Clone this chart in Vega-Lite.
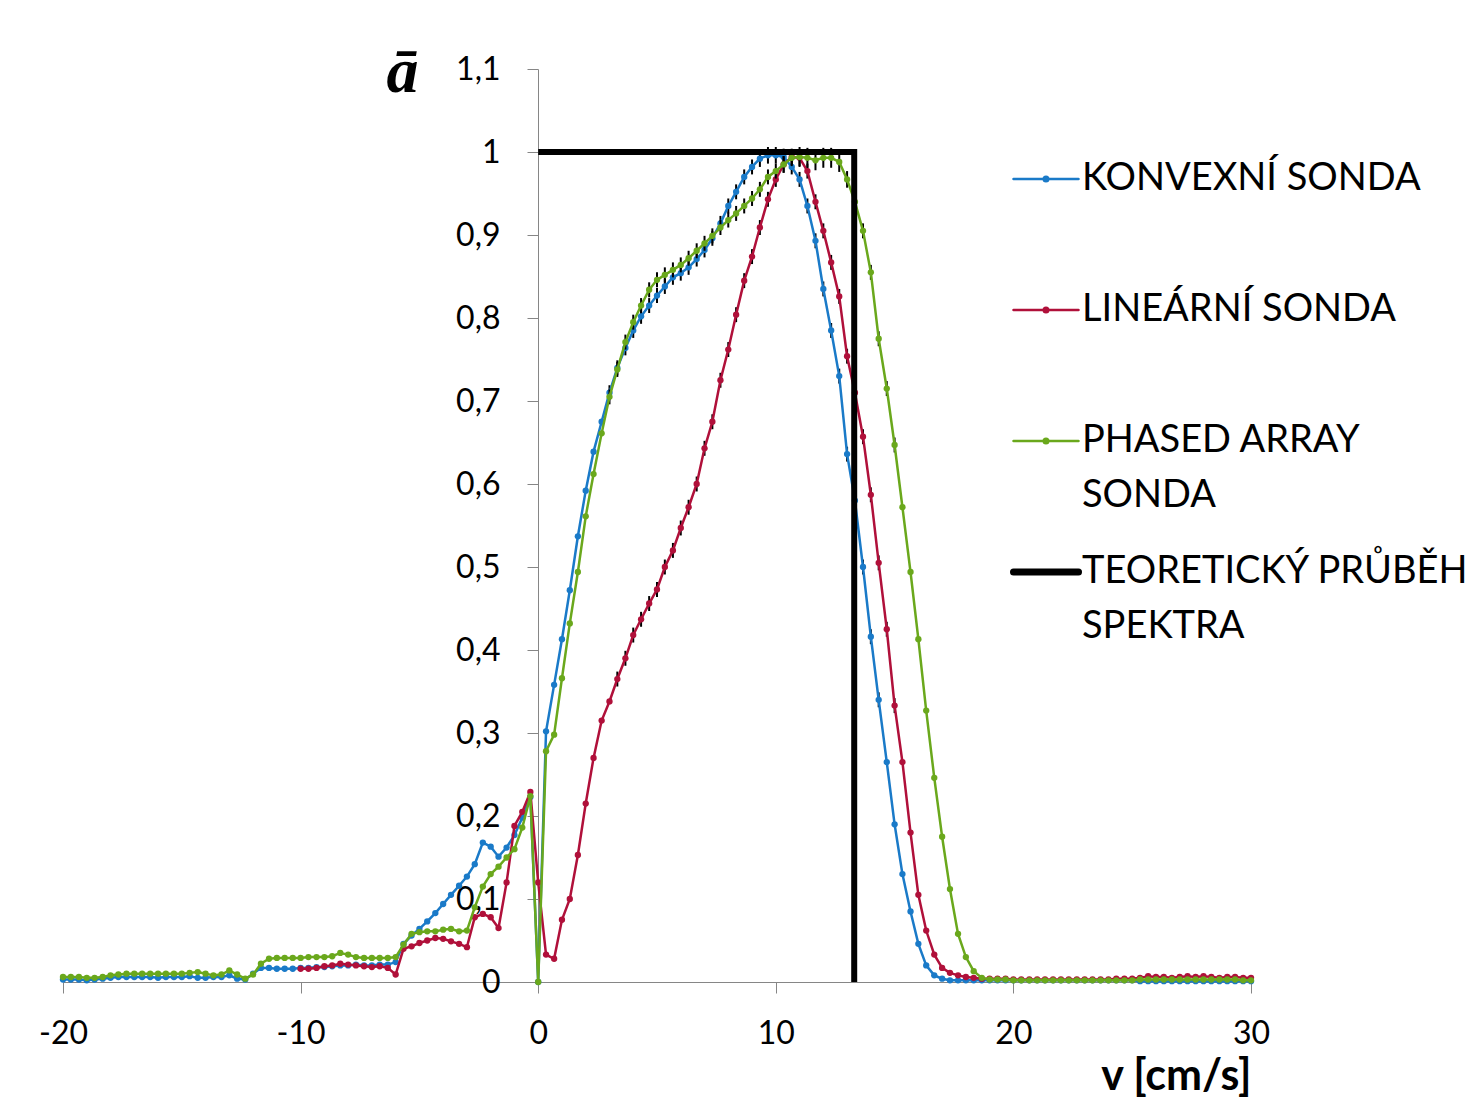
{
  "$schema": "https://vega.github.io/schema/vega-lite/v6.json",
  "width": 1188,
  "height": 913,
  "autosize": {"type": "none"},
  "padding": {"left": 63, "top": 69, "right": 230, "bottom": 136},
  "background": "white",
  "config": {"view": {"stroke": null}, "font": "Lato", "axis": {"grid": false}},
  "encoding": {
    "x": {
      "field": "v", "type": "quantitative",
      "scale": {"domain": [-20, 30], "nice": false, "zero": false},
      "axis": {
        "values": [-20, -10, 0, 10, 20, 30],
        "labelExpr": "'' + datum.value",
        "title": "v [cm/s]",
        "domainColor": "#868686", "tickColor": "#868686", "tickSize": 11,
        "labelFont": "Lato", "labelFontSize": 32, "labelColor": "black", "labelPadding": 25,
        "labelFlush": false, "labelOverlap": false,
        "titleFont": "Lato", "titleFontSize": 43, "titleFontWeight": "bold", "titleColor": "black",
        "titleX": 1188, "titleY": 107, "titleAlign": "right", "titleBaseline": "alphabetic"
      }
    },
    "y": {
      "field": "a", "type": "quantitative",
      "scale": {"domain": [0, 1.1], "nice": false},
      "axis": {
        "offset": -475,
        "values": [0, 0.1, 0.2, 0.3, 0.4, 0.5, 0.6, 0.7, 0.8, 0.9, 1, 1.1],
        "labelExpr": "replace('' + datum.value, '.', ',')",
        "domainColor": "#868686", "tickColor": "#868686", "tickSize": 11,
        "labelFont": "Lato", "labelFontSize": 32, "labelColor": "black", "labelPadding": 27,
        "labelOverlap": false, "labelFlush": false,
        "title": "ā", "titleAngle": 0, "titleFont": "Liberation Serif", "titleFontStyle": "italic",
        "titleFontWeight": "bold", "titleFontSize": 64, "titleColor": "black",
        "titleX": -136, "titleY": 22, "titleAlign": "center", "titleBaseline": "alphabetic"
      }
    }
  },
  "layer": [
    {
      "data": {"values": [
        {"v":-20,"a":0.003},{"v":-19.67,"a":0.003},{"v":-19.33,"a":0.003},{"v":-19,"a":0.002},{"v":-18.67,"a":0.003},{"v":-18.33,"a":0.004},{"v":-18,"a":0.005},{"v":-17.67,"a":0.006},{"v":-17.33,"a":0.006},{"v":-17,"a":0.006},{"v":-16.67,"a":0.006},{"v":-16.33,"a":0.006},{"v":-16,"a":0.005},{"v":-15.67,"a":0.006},{"v":-15.33,"a":0.006},{"v":-15,"a":0.006},{"v":-14.67,"a":0.007},{"v":-14.33,"a":0.005},{"v":-14,"a":0.005},{"v":-13.67,"a":0.006},{"v":-13.33,"a":0.006},{"v":-13,"a":0.008},{"v":-12.67,"a":0.004},{"v":-12.33,"a":0.003},{"v":-12,"a":0.01},{"v":-11.67,"a":0.017},{"v":-11.33,"a":0.017},{"v":-11,"a":0.016},{"v":-10.67,"a":0.016},{"v":-10.33,"a":0.016},{"v":-10,"a":0.017},{"v":-9.67,"a":0.017},{"v":-9.33,"a":0.018},{"v":-9,"a":0.018},{"v":-8.67,"a":0.019},{"v":-8.33,"a":0.02},{"v":-8,"a":0.02},{"v":-7.67,"a":0.021},{"v":-7.33,"a":0.02},{"v":-7,"a":0.02},{"v":-6.67,"a":0.021},{"v":-6.33,"a":0.021},{"v":-6,"a":0.024},{"v":-5.67,"a":0.046},{"v":-5.33,"a":0.056},{"v":-5,"a":0.064},{"v":-4.67,"a":0.073},{"v":-4.33,"a":0.083},{"v":-4,"a":0.094},{"v":-3.67,"a":0.105},{"v":-3.33,"a":0.116},{"v":-3,"a":0.127},{"v":-2.67,"a":0.142},{"v":-2.33,"a":0.168},{"v":-2,"a":0.163},{"v":-1.67,"a":0.151},{"v":-1.33,"a":0.162},{"v":-1,"a":0.177},{"v":-0.67,"a":0.198},{"v":-0.33,"a":0.223},{"v":0,"a":0},{"v":0.33,"a":0.302},{"v":0.67,"a":0.358},{"v":1,"a":0.413},{"v":1.33,"a":0.472},{"v":1.67,"a":0.537},{"v":2,"a":0.592},{"v":2.33,"a":0.639},{"v":2.67,"a":0.675},{"v":3,"a":0.71,"e":0.009},{"v":3.33,"a":0.74,"e":0.009},{"v":3.67,"a":0.764,"e":0.009},{"v":4,"a":0.785,"e":0.009},{"v":4.33,"a":0.802,"e":0.009},{"v":4.67,"a":0.815,"e":0.009},{"v":5,"a":0.827,"e":0.009},{"v":5.33,"a":0.838,"e":0.009},{"v":5.67,"a":0.849,"e":0.009},{"v":6,"a":0.854,"e":0.009},{"v":6.33,"a":0.861,"e":0.009},{"v":6.67,"a":0.871,"e":0.009},{"v":7,"a":0.882,"e":0.009},{"v":7.33,"a":0.896,"e":0.009},{"v":7.67,"a":0.914,"e":0.009},{"v":8,"a":0.935,"e":0.009},{"v":8.33,"a":0.952,"e":0.009},{"v":8.67,"a":0.97,"e":0.009},{"v":9,"a":0.982,"e":0.009},{"v":9.33,"a":0.992,"e":0.01},{"v":9.67,"a":0.996,"e":0.01},{"v":10,"a":0.996,"e":0.01},{"v":10.33,"a":0.994,"e":0.01},{"v":10.67,"a":0.982,"e":0.009},{"v":11,"a":0.967,"e":0.009},{"v":11.33,"a":0.935,"e":0.009},{"v":11.67,"a":0.893,"e":0.009},{"v":12,"a":0.835,"e":0.009},{"v":12.33,"a":0.785,"e":0.009},{"v":12.67,"a":0.73,"e":0.009},{"v":13,"a":0.636,"e":0.009},{"v":13.33,"a":0.58,"e":0.009},{"v":13.67,"a":0.5,"e":0.009},{"v":14,"a":0.416,"e":0.009},{"v":14.33,"a":0.34,"e":0.009},{"v":14.67,"a":0.265},{"v":15,"a":0.19},{"v":15.33,"a":0.13},{"v":15.67,"a":0.085},{"v":16,"a":0.046},{"v":16.33,"a":0.02},{"v":16.67,"a":0.008},{"v":17,"a":0.004},{"v":17.33,"a":0.002},{"v":17.67,"a":0.002},{"v":18,"a":0.002},{"v":18.33,"a":0.002},{"v":18.67,"a":0.002},{"v":19,"a":0.002},{"v":19.33,"a":0.002},{"v":19.67,"a":0.002},{"v":20,"a":0.002},{"v":20.33,"a":0.002},{"v":20.67,"a":0.002},{"v":21,"a":0.002},{"v":21.33,"a":0.002},{"v":21.67,"a":0.002},{"v":22,"a":0.002},{"v":22.33,"a":0.002},{"v":22.67,"a":0.002},{"v":23,"a":0.002},{"v":23.33,"a":0.002},{"v":23.67,"a":0.002},{"v":24,"a":0.002},{"v":24.33,"a":0.002},{"v":24.67,"a":0.002},{"v":25,"a":0.002},{"v":25.33,"a":0.001},{"v":25.67,"a":0.001},{"v":26,"a":0.001},{"v":26.33,"a":0.001},{"v":26.67,"a":0.001},{"v":27,"a":0.001},{"v":27.33,"a":0.001},{"v":27.67,"a":0.001},{"v":28,"a":0.001},{"v":28.33,"a":0.001},{"v":28.67,"a":0.001},{"v":29,"a":0.001},{"v":29.33,"a":0.001},{"v":29.67,"a":0.001},{"v":30,"a":0.001}
      ]},
      "layer": [
        {"transform": [{"filter": "datum.e > 0"}], "mark": {"type": "errorbar", "color": "black", "thickness": 2}, "encoding": {"yError": {"field": "e"}}},
        {
          "mark": {"type": "line", "strokeWidth": 2.5, "point": {"filled": true, "size": 40}},
          "encoding": {
            "color": {
              "datum": "KONVEXNÍ SONDA",
              "type": "nominal",
              "scale": {
                "domain": ["KONVEXNÍ SONDA", "LINEÁRNÍ SONDA", "PHASED ARRAY SONDA", "TEORETICKÝ PRŮBĚH SPEKTRA"],
                "range": ["#1a7ac8", "#b0103a", "#6aa81c", "#000000"]
              },
              "legend": {
                "orient": "none", "legendX": 964, "legendY": 91, "title": null,
                "padding": 0, "rowPadding": 38,
                "labelFont": "Lato", "labelFontSize": 38, "labelColor": "black", "labelLimit": 0, "labelOffset": 17,
                "symbolSize": 4225, "symbolStrokeWidth": 2.5,
                "symbolType": "M-1,0H1M0.07,0A0.07,0.07,0,1,1,-0.07,0A0.07,0.07,0,1,1,0.07,0",
                "labelExpr": "datum.label == 'PHASED ARRAY SONDA' ? ['PHASED ARRAY', 'SONDA'] : datum.label == 'TEORETICKÝ PRŮBĚH SPEKTRA' ? ['TEORETICKÝ PRŮBĚH', 'SPEKTRA'] : [datum.label, '']",
                "encode": {
                  "symbols": {"update": {
                    "strokeWidth": {"signal": "datum.value == 'TEORETICKÝ PRŮBĚH SPEKTRA' ? 7 : 2.5"},
                    "shape": {"signal": "datum.value == 'TEORETICKÝ PRŮBĚH SPEKTRA' ? 'M-1,0H1' : 'M-1,0H1M0.07,0A0.07,0.07,0,1,1,-0.07,0A0.07,0.07,0,1,1,0.07,0'"},
                    "strokeCap": {"value": "round"}
                  }},
                  "labels": {"update": {"lineHeight": {"value": 55}}}
                }
              }
            }
          }
        }
      ]
    },
    {
      "data": {"values": [
        {"v":-10,"a":0.016},{"v":-9.67,"a":0.016},{"v":-9.33,"a":0.017},{"v":-9,"a":0.019},{"v":-8.67,"a":0.02},{"v":-8.33,"a":0.022},{"v":-8,"a":0.021},{"v":-7.67,"a":0.02},{"v":-7.33,"a":0.019},{"v":-7,"a":0.018},{"v":-6.67,"a":0.019},{"v":-6.33,"a":0.017},{"v":-6,"a":0.009},{"v":-5.67,"a":0.04},{"v":-5.33,"a":0.043},{"v":-5,"a":0.047},{"v":-4.67,"a":0.05},{"v":-4.33,"a":0.053},{"v":-4,"a":0.052},{"v":-3.67,"a":0.049},{"v":-3.33,"a":0.046},{"v":-3,"a":0.042},{"v":-2.67,"a":0.078},{"v":-2.33,"a":0.082},{"v":-2,"a":0.078},{"v":-1.67,"a":0.065},{"v":-1.33,"a":0.12},{"v":-1,"a":0.188},{"v":-0.67,"a":0.205},{"v":-0.33,"a":0.229},{"v":0,"a":0.12},{"v":0.33,"a":0.033},{"v":0.67,"a":0.028},{"v":1,"a":0.075},{"v":1.33,"a":0.1},{"v":1.67,"a":0.153},{"v":2,"a":0.215},{"v":2.33,"a":0.27},{"v":2.67,"a":0.315},{"v":3,"a":0.338},{"v":3.33,"a":0.365,"e":0.009},{"v":3.67,"a":0.39,"e":0.009},{"v":4,"a":0.418,"e":0.009},{"v":4.33,"a":0.437,"e":0.009},{"v":4.67,"a":0.456,"e":0.009},{"v":5,"a":0.473,"e":0.009},{"v":5.33,"a":0.5,"e":0.009},{"v":5.67,"a":0.52,"e":0.009},{"v":6,"a":0.547,"e":0.009},{"v":6.33,"a":0.572,"e":0.009},{"v":6.67,"a":0.6,"e":0.009},{"v":7,"a":0.643,"e":0.009},{"v":7.33,"a":0.675,"e":0.009},{"v":7.67,"a":0.725,"e":0.009},{"v":8,"a":0.762,"e":0.009},{"v":8.33,"a":0.804,"e":0.009},{"v":8.67,"a":0.845,"e":0.009},{"v":9,"a":0.874,"e":0.009},{"v":9.33,"a":0.909,"e":0.009},{"v":9.67,"a":0.943,"e":0.009},{"v":10,"a":0.967,"e":0.009},{"v":10.33,"a":0.985,"e":0.01},{"v":10.67,"a":0.994,"e":0.01},{"v":11,"a":0.993,"e":0.01},{"v":11.33,"a":0.977,"e":0.009},{"v":11.67,"a":0.94,"e":0.009},{"v":12,"a":0.905,"e":0.009},{"v":12.33,"a":0.867,"e":0.009},{"v":12.67,"a":0.826,"e":0.009},{"v":13,"a":0.754,"e":0.009},{"v":13.33,"a":0.71,"e":0.009},{"v":13.67,"a":0.657,"e":0.009},{"v":14,"a":0.587,"e":0.009},{"v":14.33,"a":0.505,"e":0.009},{"v":14.67,"a":0.425,"e":0.009},{"v":15,"a":0.333,"e":0.009},{"v":15.33,"a":0.265},{"v":15.67,"a":0.18},{"v":16,"a":0.105},{"v":16.33,"a":0.062},{"v":16.67,"a":0.033},{"v":17,"a":0.017},{"v":17.33,"a":0.011},{"v":17.67,"a":0.008},{"v":18,"a":0.006},{"v":18.33,"a":0.005},{"v":18.67,"a":0.004},{"v":19,"a":0.004},{"v":19.33,"a":0.004},{"v":19.67,"a":0.004},{"v":20,"a":0.003},{"v":20.33,"a":0.003},{"v":20.67,"a":0.003},{"v":21,"a":0.003},{"v":21.33,"a":0.003},{"v":21.67,"a":0.003},{"v":22,"a":0.003},{"v":22.33,"a":0.003},{"v":22.67,"a":0.003},{"v":23,"a":0.003},{"v":23.33,"a":0.003},{"v":23.67,"a":0.003},{"v":24,"a":0.003},{"v":24.33,"a":0.004},{"v":24.67,"a":0.004},{"v":25,"a":0.004},{"v":25.33,"a":0.005},{"v":25.67,"a":0.007},{"v":26,"a":0.006},{"v":26.33,"a":0.006},{"v":26.67,"a":0.005},{"v":27,"a":0.006},{"v":27.33,"a":0.007},{"v":27.67,"a":0.006},{"v":28,"a":0.007},{"v":28.33,"a":0.006},{"v":28.67,"a":0.005},{"v":29,"a":0.006},{"v":29.33,"a":0.006},{"v":29.67,"a":0.005},{"v":30,"a":0.005}
      ]},
      "layer": [
        {"transform": [{"filter": "datum.e > 0"}], "mark": {"type": "errorbar", "color": "black", "thickness": 2}, "encoding": {"yError": {"field": "e"}}},
        {"mark": {"type": "line", "strokeWidth": 2.5, "point": {"filled": true, "size": 40}}, "encoding": {"color": {"datum": "LINEÁRNÍ SONDA", "type": "nominal"}}}
      ]
    },
    {
      "data": {"values": [
        {"v":-20,"a":0.006},{"v":-19.67,"a":0.006},{"v":-19.33,"a":0.006},{"v":-19,"a":0.005},{"v":-18.67,"a":0.005},{"v":-18.33,"a":0.006},{"v":-18,"a":0.008},{"v":-17.67,"a":0.009},{"v":-17.33,"a":0.01},{"v":-17,"a":0.01},{"v":-16.67,"a":0.01},{"v":-16.33,"a":0.01},{"v":-16,"a":0.01},{"v":-15.67,"a":0.01},{"v":-15.33,"a":0.01},{"v":-15,"a":0.01},{"v":-14.67,"a":0.011},{"v":-14.33,"a":0.012},{"v":-14,"a":0.01},{"v":-13.67,"a":0.008},{"v":-13.33,"a":0.009},{"v":-13,"a":0.014},{"v":-12.67,"a":0.009},{"v":-12.33,"a":0.004},{"v":-12,"a":0.009},{"v":-11.67,"a":0.022},{"v":-11.33,"a":0.028},{"v":-11,"a":0.029},{"v":-10.67,"a":0.029},{"v":-10.33,"a":0.029},{"v":-10,"a":0.029},{"v":-9.67,"a":0.03},{"v":-9.33,"a":0.03},{"v":-9,"a":0.03},{"v":-8.67,"a":0.031},{"v":-8.33,"a":0.035},{"v":-8,"a":0.033},{"v":-7.67,"a":0.03},{"v":-7.33,"a":0.029},{"v":-7,"a":0.029},{"v":-6.67,"a":0.029},{"v":-6.33,"a":0.029},{"v":-6,"a":0.03},{"v":-5.67,"a":0.045},{"v":-5.33,"a":0.058},{"v":-5,"a":0.06},{"v":-4.67,"a":0.061},{"v":-4.33,"a":0.061},{"v":-4,"a":0.063},{"v":-3.67,"a":0.064},{"v":-3.33,"a":0.061},{"v":-3,"a":0.062},{"v":-2.67,"a":0.09},{"v":-2.33,"a":0.115},{"v":-2,"a":0.13},{"v":-1.67,"a":0.139},{"v":-1.33,"a":0.15},{"v":-1,"a":0.16},{"v":-0.67,"a":0.186},{"v":-0.33,"a":0.224},{"v":0,"a":0},{"v":0.33,"a":0.278},{"v":0.67,"a":0.298},{"v":1,"a":0.366},{"v":1.33,"a":0.432},{"v":1.67,"a":0.494},{"v":2,"a":0.561},{"v":2.33,"a":0.612},{"v":2.67,"a":0.661},{"v":3,"a":0.705,"e":0.009},{"v":3.33,"a":0.738,"e":0.009},{"v":3.67,"a":0.771,"e":0.009},{"v":4,"a":0.795,"e":0.009},{"v":4.33,"a":0.815,"e":0.009},{"v":4.67,"a":0.834,"e":0.009},{"v":5,"a":0.846,"e":0.009},{"v":5.33,"a":0.852,"e":0.009},{"v":5.67,"a":0.858,"e":0.009},{"v":6,"a":0.864,"e":0.009},{"v":6.33,"a":0.872,"e":0.009},{"v":6.67,"a":0.881,"e":0.009},{"v":7,"a":0.89,"e":0.009},{"v":7.33,"a":0.899,"e":0.009},{"v":7.67,"a":0.909,"e":0.009},{"v":8,"a":0.918,"e":0.009},{"v":8.33,"a":0.926,"e":0.009},{"v":8.67,"a":0.935,"e":0.009},{"v":9,"a":0.944,"e":0.009},{"v":9.33,"a":0.955,"e":0.009},{"v":9.67,"a":0.97,"e":0.009},{"v":10,"a":0.977,"e":0.009},{"v":10.33,"a":0.985,"e":0.01},{"v":10.67,"a":0.993,"e":0.01},{"v":11,"a":0.994,"e":0.012},{"v":11.33,"a":0.993,"e":0.012},{"v":11.67,"a":0.99,"e":0.012},{"v":12,"a":0.993,"e":0.012},{"v":12.33,"a":0.993,"e":0.012},{"v":12.67,"a":0.988,"e":0.012},{"v":13,"a":0.967,"e":0.01},{"v":13.33,"a":0.94,"e":0.009},{"v":13.67,"a":0.905,"e":0.009},{"v":14,"a":0.855,"e":0.009},{"v":14.33,"a":0.775,"e":0.009},{"v":14.67,"a":0.715,"e":0.009},{"v":15,"a":0.647,"e":0.009},{"v":15.33,"a":0.572},{"v":15.67,"a":0.494},{"v":16,"a":0.413},{"v":16.33,"a":0.327},{"v":16.67,"a":0.246},{"v":17,"a":0.175},{"v":17.33,"a":0.112},{"v":17.67,"a":0.058},{"v":18,"a":0.03},{"v":18.33,"a":0.013},{"v":18.67,"a":0.005},{"v":19,"a":0.003},{"v":19.33,"a":0.003},{"v":19.67,"a":0.003},{"v":20,"a":0.002},{"v":20.33,"a":0.002},{"v":20.67,"a":0.002},{"v":21,"a":0.002},{"v":21.33,"a":0.002},{"v":21.67,"a":0.002},{"v":22,"a":0.002},{"v":22.33,"a":0.002},{"v":22.67,"a":0.002},{"v":23,"a":0.002},{"v":23.33,"a":0.002},{"v":23.67,"a":0.002},{"v":24,"a":0.002},{"v":24.33,"a":0.002},{"v":24.67,"a":0.002},{"v":25,"a":0.002},{"v":25.33,"a":0.003},{"v":25.67,"a":0.003},{"v":26,"a":0.003},{"v":26.33,"a":0.003},{"v":26.67,"a":0.003},{"v":27,"a":0.003},{"v":27.33,"a":0.003},{"v":27.67,"a":0.003},{"v":28,"a":0.003},{"v":28.33,"a":0.003},{"v":28.67,"a":0.003},{"v":29,"a":0.003},{"v":29.33,"a":0.003},{"v":29.67,"a":0.002},{"v":30,"a":0.002}
      ]},
      "layer": [
        {"transform": [{"filter": "datum.e > 0"}], "mark": {"type": "errorbar", "color": "black", "thickness": 2}, "encoding": {"yError": {"field": "e"}}},
        {"mark": {"type": "line", "strokeWidth": 2.5, "point": {"filled": true, "size": 40}}, "encoding": {"color": {"datum": "PHASED ARRAY SONDA", "type": "nominal"}}}
      ]
    },
    {
      "data": {"values": [{"v": 0, "a": 1, "i": 0}, {"v": 13.3, "a": 1, "i": 1}, {"v": 13.3, "a": 0, "i": 2}]},
      "mark": {"type": "line", "strokeWidth": 6, "strokeJoin": "miter", "strokeCap": "butt"},
      "encoding": {
        "order": {"field": "i", "type": "quantitative"},
        "color": {"datum": "TEORETICKÝ PRŮBĚH SPEKTRA", "type": "nominal"}
      }
    }
  ]
}
